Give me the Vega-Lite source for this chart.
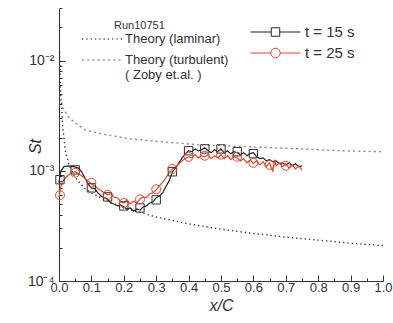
{
  "$schema": "https://vega.github.io/schema/vega-lite/v6.json",
  "width": 324,
  "height": 273,
  "autosize": {"type": "none"},
  "padding": {"left": 59, "top": 8, "right": 10, "bottom": 42},
  "background": "white",
  "config": {
    "view": {"stroke": null},
    "font": "Liberation Sans",
    "axis": {"grid": false, "domainColor": "#333", "tickColor": "#333", "labelColor": "#333", "titleColor": "#333", "labelFont": "Liberation Sans", "titleFont": "Liberation Sans"},
    "legend": {"labelFont": "Liberation Sans", "titleFont": "Liberation Sans", "labelColor": "#333", "titleColor": "#333"}
  },
  "datasets": {
    "theory": [
      {"curve": "Theory (laminar)", "x": 0.002, "St": 0.012},
      {"curve": "Theory (laminar)", "x": 0.004, "St": 0.0065},
      {"curve": "Theory (laminar)", "x": 0.007, "St": 0.004},
      {"curve": "Theory (laminar)", "x": 0.012, "St": 0.0024},
      {"curve": "Theory (laminar)", "x": 0.02, "St": 0.0015},
      {"curve": "Theory (laminar)", "x": 0.03, "St": 0.00115},
      {"curve": "Theory (laminar)", "x": 0.045, "St": 0.00092},
      {"curve": "Theory (laminar)", "x": 0.06, "St": 0.0008},
      {"curve": "Theory (laminar)", "x": 0.08, "St": 0.00069},
      {"curve": "Theory (laminar)", "x": 0.1, "St": 0.00063},
      {"curve": "Theory (laminar)", "x": 0.15, "St": 0.00053},
      {"curve": "Theory (laminar)", "x": 0.2, "St": 0.00046},
      {"curve": "Theory (laminar)", "x": 0.25, "St": 0.00042},
      {"curve": "Theory (laminar)", "x": 0.3, "St": 0.00038},
      {"curve": "Theory (laminar)", "x": 0.4, "St": 0.00033},
      {"curve": "Theory (laminar)", "x": 0.5, "St": 0.000295},
      {"curve": "Theory (laminar)", "x": 0.6, "St": 0.00027},
      {"curve": "Theory (laminar)", "x": 0.7, "St": 0.00025},
      {"curve": "Theory (laminar)", "x": 0.8, "St": 0.000235},
      {"curve": "Theory (laminar)", "x": 0.9, "St": 0.00022},
      {"curve": "Theory (laminar)", "x": 1.0, "St": 0.00021},
      {"curve": "Theory (turbulent)", "x": 0.008, "St": 0.0042},
      {"curve": "Theory (turbulent)", "x": 0.012, "St": 0.00374},
      {"curve": "Theory (turbulent)", "x": 0.028, "St": 0.0031},
      {"curve": "Theory (turbulent)", "x": 0.049, "St": 0.00273},
      {"curve": "Theory (turbulent)", "x": 0.08, "St": 0.00236},
      {"curve": "Theory (turbulent)", "x": 0.127, "St": 0.00217},
      {"curve": "Theory (turbulent)", "x": 0.219, "St": 0.00195},
      {"curve": "Theory (turbulent)", "x": 0.312, "St": 0.00184},
      {"curve": "Theory (turbulent)", "x": 0.435, "St": 0.00172},
      {"curve": "Theory (turbulent)", "x": 0.59, "St": 0.00165},
      {"curve": "Theory (turbulent)", "x": 0.744, "St": 0.00158},
      {"curve": "Theory (turbulent)", "x": 0.867, "St": 0.00152},
      {"curve": "Theory (turbulent)", "x": 1.0, "St": 0.00149}
    ],
    "runs": [
      {"series": "t = 15 s", "x": 0.0, "St": 0.00078},
      {"series": "t = 15 s", "x": 0.005, "St": 0.00098},
      {"series": "t = 15 s", "x": 0.015, "St": 0.00109},
      {"series": "t = 15 s", "x": 0.03, "St": 0.00111},
      {"series": "t = 15 s", "x": 0.045, "St": 0.00109},
      {"series": "t = 15 s", "x": 0.06, "St": 0.00106},
      {"series": "t = 15 s", "x": 0.07, "St": 0.00098},
      {"series": "t = 15 s", "x": 0.08, "St": 0.00086},
      {"series": "t = 15 s", "x": 0.09, "St": 0.00076},
      {"series": "t = 15 s", "x": 0.1, "St": 0.0007},
      {"series": "t = 15 s", "x": 0.11, "St": 0.00069},
      {"series": "t = 15 s", "x": 0.12, "St": 0.00063},
      {"series": "t = 15 s", "x": 0.13, "St": 0.00059},
      {"series": "t = 15 s", "x": 0.14, "St": 0.00057},
      {"series": "t = 15 s", "x": 0.15, "St": 0.000556},
      {"series": "t = 15 s", "x": 0.16, "St": 0.00051},
      {"series": "t = 15 s", "x": 0.17, "St": 0.0005},
      {"series": "t = 15 s", "x": 0.18, "St": 0.00048},
      {"series": "t = 15 s", "x": 0.19, "St": 0.00049},
      {"series": "t = 15 s", "x": 0.2, "St": 0.00047},
      {"series": "t = 15 s", "x": 0.21, "St": 0.00045},
      {"series": "t = 15 s", "x": 0.22, "St": 0.00046},
      {"series": "t = 15 s", "x": 0.23, "St": 0.00043},
      {"series": "t = 15 s", "x": 0.24, "St": 0.00045},
      {"series": "t = 15 s", "x": 0.25, "St": 0.00044},
      {"series": "t = 15 s", "x": 0.26, "St": 0.00047},
      {"series": "t = 15 s", "x": 0.27, "St": 0.00048},
      {"series": "t = 15 s", "x": 0.28, "St": 0.00051},
      {"series": "t = 15 s", "x": 0.29, "St": 0.00052},
      {"series": "t = 15 s", "x": 0.3, "St": 0.00057},
      {"series": "t = 15 s", "x": 0.31, "St": 0.00059},
      {"series": "t = 15 s", "x": 0.32, "St": 0.00063},
      {"series": "t = 15 s", "x": 0.33, "St": 0.00072},
      {"series": "t = 15 s", "x": 0.34, "St": 0.00081},
      {"series": "t = 15 s", "x": 0.35, "St": 0.00098},
      {"series": "t = 15 s", "x": 0.36, "St": 0.00106},
      {"series": "t = 15 s", "x": 0.37, "St": 0.00118},
      {"series": "t = 15 s", "x": 0.38, "St": 0.00131},
      {"series": "t = 15 s", "x": 0.39, "St": 0.00143},
      {"series": "t = 15 s", "x": 0.4, "St": 0.00152},
      {"series": "t = 15 s", "x": 0.41, "St": 0.00149},
      {"series": "t = 15 s", "x": 0.42, "St": 0.00158},
      {"series": "t = 15 s", "x": 0.43, "St": 0.00152},
      {"series": "t = 15 s", "x": 0.44, "St": 0.00155},
      {"series": "t = 15 s", "x": 0.45, "St": 0.00162},
      {"series": "t = 15 s", "x": 0.46, "St": 0.00152},
      {"series": "t = 15 s", "x": 0.47, "St": 0.00146},
      {"series": "t = 15 s", "x": 0.48, "St": 0.00155},
      {"series": "t = 15 s", "x": 0.49, "St": 0.00149},
      {"series": "t = 15 s", "x": 0.5, "St": 0.00158},
      {"series": "t = 15 s", "x": 0.51, "St": 0.00146},
      {"series": "t = 15 s", "x": 0.52, "St": 0.00152},
      {"series": "t = 15 s", "x": 0.53, "St": 0.00143},
      {"series": "t = 15 s", "x": 0.54, "St": 0.00149},
      {"series": "t = 15 s", "x": 0.55, "St": 0.00146},
      {"series": "t = 15 s", "x": 0.56, "St": 0.0014},
      {"series": "t = 15 s", "x": 0.57, "St": 0.00146},
      {"series": "t = 15 s", "x": 0.58, "St": 0.00137},
      {"series": "t = 15 s", "x": 0.59, "St": 0.00143},
      {"series": "t = 15 s", "x": 0.6, "St": 0.00146},
      {"series": "t = 15 s", "x": 0.61, "St": 0.00134},
      {"series": "t = 15 s", "x": 0.62, "St": 0.00129},
      {"series": "t = 15 s", "x": 0.63, "St": 0.00131},
      {"series": "t = 15 s", "x": 0.64, "St": 0.00123},
      {"series": "t = 15 s", "x": 0.65, "St": 0.00126},
      {"series": "t = 15 s", "x": 0.66, "St": 0.00121},
      {"series": "t = 15 s", "x": 0.67, "St": 0.00123},
      {"series": "t = 15 s", "x": 0.68, "St": 0.00116},
      {"series": "t = 15 s", "x": 0.69, "St": 0.00118},
      {"series": "t = 15 s", "x": 0.7, "St": 0.00113},
      {"series": "t = 15 s", "x": 0.71, "St": 0.00118},
      {"series": "t = 15 s", "x": 0.72, "St": 0.00111},
      {"series": "t = 15 s", "x": 0.73, "St": 0.00116},
      {"series": "t = 15 s", "x": 0.74, "St": 0.00109},
      {"series": "t = 15 s", "x": 0.75, "St": 0.00111},
      {"series": "t = 25 s", "x": 0.0, "St": 0.00058},
      {"series": "t = 25 s", "x": 0.005, "St": 0.0007},
      {"series": "t = 25 s", "x": 0.01, "St": 0.00079},
      {"series": "t = 25 s", "x": 0.02, "St": 0.00086},
      {"series": "t = 25 s", "x": 0.03, "St": 0.00092},
      {"series": "t = 25 s", "x": 0.04, "St": 0.00096},
      {"series": "t = 25 s", "x": 0.05, "St": 0.00098},
      {"series": "t = 25 s", "x": 0.06, "St": 0.00094},
      {"series": "t = 25 s", "x": 0.07, "St": 0.0009},
      {"series": "t = 25 s", "x": 0.08, "St": 0.00085},
      {"series": "t = 25 s", "x": 0.09, "St": 0.00081},
      {"series": "t = 25 s", "x": 0.1, "St": 0.00076},
      {"series": "t = 25 s", "x": 0.11, "St": 0.00073},
      {"series": "t = 25 s", "x": 0.12, "St": 0.00069},
      {"series": "t = 25 s", "x": 0.13, "St": 0.00066},
      {"series": "t = 25 s", "x": 0.14, "St": 0.00063},
      {"series": "t = 25 s", "x": 0.15, "St": 0.000605},
      {"series": "t = 25 s", "x": 0.16, "St": 0.00062},
      {"series": "t = 25 s", "x": 0.17, "St": 0.00058},
      {"series": "t = 25 s", "x": 0.18, "St": 0.00057},
      {"series": "t = 25 s", "x": 0.19, "St": 0.00053},
      {"series": "t = 25 s", "x": 0.2, "St": 0.00051},
      {"series": "t = 25 s", "x": 0.21, "St": 0.000545},
      {"series": "t = 25 s", "x": 0.22, "St": 0.0005},
      {"series": "t = 25 s", "x": 0.23, "St": 0.00053},
      {"series": "t = 25 s", "x": 0.24, "St": 0.00051},
      {"series": "t = 25 s", "x": 0.25, "St": 0.000556},
      {"series": "t = 25 s", "x": 0.26, "St": 0.00058},
      {"series": "t = 25 s", "x": 0.27, "St": 0.00057},
      {"series": "t = 25 s", "x": 0.28, "St": 0.00062},
      {"series": "t = 25 s", "x": 0.29, "St": 0.00063},
      {"series": "t = 25 s", "x": 0.3, "St": 0.00067},
      {"series": "t = 25 s", "x": 0.31, "St": 0.00073},
      {"series": "t = 25 s", "x": 0.32, "St": 0.00079},
      {"series": "t = 25 s", "x": 0.33, "St": 0.00086},
      {"series": "t = 25 s", "x": 0.34, "St": 0.00096},
      {"series": "t = 25 s", "x": 0.35, "St": 0.00104},
      {"series": "t = 25 s", "x": 0.36, "St": 0.00109},
      {"series": "t = 25 s", "x": 0.37, "St": 0.00116},
      {"series": "t = 25 s", "x": 0.38, "St": 0.00123},
      {"series": "t = 25 s", "x": 0.39, "St": 0.00129},
      {"series": "t = 25 s", "x": 0.4, "St": 0.00134},
      {"series": "t = 25 s", "x": 0.41, "St": 0.00131},
      {"series": "t = 25 s", "x": 0.42, "St": 0.0014},
      {"series": "t = 25 s", "x": 0.43, "St": 0.00131},
      {"series": "t = 25 s", "x": 0.44, "St": 0.00137},
      {"series": "t = 25 s", "x": 0.45, "St": 0.00134},
      {"series": "t = 25 s", "x": 0.46, "St": 0.0014},
      {"series": "t = 25 s", "x": 0.47, "St": 0.00129},
      {"series": "t = 25 s", "x": 0.48, "St": 0.00137},
      {"series": "t = 25 s", "x": 0.49, "St": 0.00131},
      {"series": "t = 25 s", "x": 0.5, "St": 0.0014},
      {"series": "t = 25 s", "x": 0.51, "St": 0.00129},
      {"series": "t = 25 s", "x": 0.52, "St": 0.00137},
      {"series": "t = 25 s", "x": 0.53, "St": 0.00126},
      {"series": "t = 25 s", "x": 0.54, "St": 0.00134},
      {"series": "t = 25 s", "x": 0.55, "St": 0.00131},
      {"series": "t = 25 s", "x": 0.56, "St": 0.00123},
      {"series": "t = 25 s", "x": 0.57, "St": 0.00129},
      {"series": "t = 25 s", "x": 0.58, "St": 0.00118},
      {"series": "t = 25 s", "x": 0.59, "St": 0.00126},
      {"series": "t = 25 s", "x": 0.6, "St": 0.00116},
      {"series": "t = 25 s", "x": 0.61, "St": 0.00123},
      {"series": "t = 25 s", "x": 0.62, "St": 0.00113},
      {"series": "t = 25 s", "x": 0.63, "St": 0.00121},
      {"series": "t = 25 s", "x": 0.64, "St": 0.00109},
      {"series": "t = 25 s", "x": 0.65, "St": 0.00118},
      {"series": "t = 25 s", "x": 0.66, "St": 0.00098},
      {"series": "t = 25 s", "x": 0.665, "St": 0.00126},
      {"series": "t = 25 s", "x": 0.67, "St": 0.00111},
      {"series": "t = 25 s", "x": 0.68, "St": 0.00118},
      {"series": "t = 25 s", "x": 0.69, "St": 0.00109},
      {"series": "t = 25 s", "x": 0.7, "St": 0.00116},
      {"series": "t = 25 s", "x": 0.71, "St": 0.00106},
      {"series": "t = 25 s", "x": 0.72, "St": 0.00113},
      {"series": "t = 25 s", "x": 0.73, "St": 0.00104},
      {"series": "t = 25 s", "x": 0.74, "St": 0.00111},
      {"series": "t = 25 s", "x": 0.75, "St": 0.00102}
    ],
    "m15": [
      {"x": 0.003, "St": 0.00083},
      {"x": 0.05, "St": 0.00102},
      {"x": 0.1, "St": 0.0007},
      {"x": 0.15, "St": 0.00058},
      {"x": 0.2, "St": 0.00048},
      {"x": 0.25, "St": 0.00046},
      {"x": 0.3, "St": 0.000545},
      {"x": 0.35, "St": 0.00098},
      {"x": 0.4, "St": 0.00152},
      {"x": 0.45, "St": 0.00158},
      {"x": 0.5, "St": 0.00158},
      {"x": 0.55, "St": 0.00149},
      {"x": 0.6, "St": 0.00143}
    ],
    "m25": [
      {"x": 0.003, "St": 0.0006},
      {"x": 0.05, "St": 0.00096},
      {"x": 0.1, "St": 0.00078},
      {"x": 0.15, "St": 0.000605},
      {"x": 0.2, "St": 0.00051},
      {"x": 0.25, "St": 0.00055},
      {"x": 0.3, "St": 0.00068},
      {"x": 0.35, "St": 0.00104},
      {"x": 0.4, "St": 0.00134},
      {"x": 0.45, "St": 0.00137},
      {"x": 0.5, "St": 0.0014},
      {"x": 0.55, "St": 0.00134},
      {"x": 0.6, "St": 0.00118},
      {"x": 0.65, "St": 0.00113},
      {"x": 0.7, "St": 0.00111}
    ]
  },
  "encoding": {
    "x": {
      "field": "x", "type": "quantitative",
      "scale": {"domain": [0, 1], "nice": false, "zero": false},
      "axis": {
        "title": "x/C", "titleFontStyle": "italic", "titleFontWeight": "normal", "titleFontSize": 16, "titlePadding": 0,
        "values": [0, 0.05, 0.1, 0.15, 0.2, 0.25, 0.3, 0.35, 0.4, 0.45, 0.5, 0.55, 0.6, 0.65, 0.7, 0.75, 0.8, 0.85, 0.9, 0.95, 1.0],
        "labelExpr": "abs(datum.value*10 - round(datum.value*10)) < 0.001 ? format(datum.value, '.1f') : ''",
        "tickSize": {"condition": {"test": "abs(datum.value*10 - round(datum.value*10)) < 0.001", "value": -6}, "value": -3},
        "labelFontSize": 13, "labelPadding": 6, "labelFlush": false, "labelOverlap": false
      }
    },
    "y": {
      "field": "St", "type": "quantitative",
      "scale": {"type": "log", "domain": [0.0001, 0.03], "nice": false},
      "axis": {
        "title": "St", "titleFontStyle": "italic", "titleFontWeight": "normal", "titleFontSize": 16,
        "titleX": -24, "titleY": 138, "titleAngle": -90, "titleAlign": "center", "titleBaseline": "middle",
        "values": [0.0001, 0.0002, 0.0003, 0.0004, 0.0005, 0.0006, 0.0007, 0.0008, 0.0009, 0.001, 0.002, 0.003, 0.004, 0.005, 0.006, 0.007, 0.008, 0.009, 0.01, 0.02, 0.03],
        "labelExpr": "datum.value == 0.0001 ? '10⁻⁴' : datum.value == 0.001 ? '10⁻³' : datum.value == 0.01 ? '10⁻²' : ''",
        "tickSize": {"condition": {"test": "datum.value == 0.0001 || datum.value == 0.001 || datum.value == 0.01", "value": -6}, "value": -3},
        "labelFontSize": 14, "labelPadding": 11, "labelOverlap": false, "labelFlush": false
      }
    }
  },
  "layer": [
    {
      "data": {"name": "theory"},
      "mark": {"type": "line", "color": "#333", "strokeWidth": 1.4},
      "encoding": {
        "strokeDash": {
          "field": "curve", "type": "nominal",
          "scale": {"domain": ["Theory (laminar)", "Theory (turbulent)"], "range": [[1.3, 3], [2.2, 3]]},
          "legend": {
            "orient": "none", "legendX": 22, "legendY": 12,
            "title": "\u200b\u2003\u2003\u2003Run10751", "titleFontSize": 11, "titleFontWeight": "normal", "titleAnchor": "start", "titlePadding": 1,
            "labelFontSize": 13, "labelOffset": 2, "rowPadding": 7, "clipHeight": 14,
            "symbolType": "stroke", "symbolSize": 1600, "symbolStrokeColor": "#555", "symbolStrokeWidth": 1.3,
            "labelExpr": "datum.label == 'Theory (turbulent)' ? ['Theory (turbulent)', '( Zoby et.al. )'] : datum.label"
          }
        },
        "opacity": {
          "field": "curve", "type": "nominal",
          "scale": {"domain": ["Theory (laminar)", "Theory (turbulent)"], "range": [1, 0.55]},
          "legend": null
        }
      }
    },
    {
      "data": {"name": "runs"},
      "mark": {"type": "line", "strokeWidth": 1.2},
      "encoding": {
        "color": {
          "field": "series", "type": "nominal",
          "scale": {"domain": ["t = 15 s", "t = 25 s"], "range": ["#222222", "#e5472d"]},
          "legend": {
            "orient": "none", "legendX": 191, "legendY": 16, "title": null,
            "labelFontSize": 15, "labelOffset": 4, "rowPadding": 5, "clipHeight": 16,
            "symbolSize": 2500, "symbolStrokeWidth": 1,
            "encode": {
              "symbols": {
                "update": {
                  "shape": {"signal": "datum.value == 't = 15 s' ? 'M-1,0H-0.17M0.17,0H1M-0.17,-0.17H0.17V0.17H-0.17Z' : 'M-1,0H-0.19M0.19,0H1M-0.19,0A0.19,0.19 0 1,0 0.19,0A0.19,0.19 0 1,0 -0.19,0Z'"},
                  "fill": {"value": "transparent"}
                }
              }
            }
          }
        }
      }
    },
    {
      "data": {"name": "m15"},
      "mark": {"type": "point", "shape": "square", "size": 70, "filled": false, "color": "#333", "strokeWidth": 1, "opacity": 1}
    },
    {
      "data": {"name": "m25"},
      "mark": {"type": "point", "shape": "circle", "size": 80, "filled": false, "color": "#e5472d", "strokeWidth": 1, "opacity": 1}
    }
  ]
}
